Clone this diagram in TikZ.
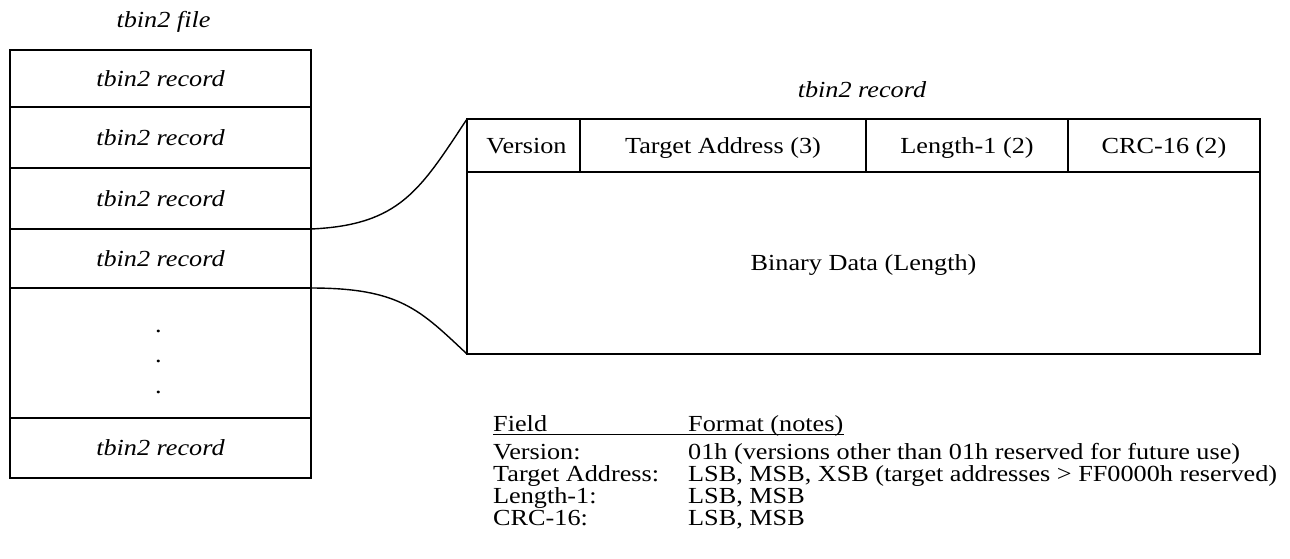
\documentclass[tikz,border=0pt]{standalone}
\usepackage{fontspec}
\setmainfont{Liberation Serif}[FakeStretch=1.14]
\begin{document}
\begin{tikzpicture}[x=1pt,y=-1pt,
  txt/.style={font=\fontsize{23}{30.5}\selectfont},
  cell/.style={txt, draw, line width=1.4pt, inner sep=0pt, outer sep=0pt,
    anchor=north west, text height=15.5pt, text depth=0pt},
  lbl/.style={txt, inner sep=0pt, anchor=base},
  tbl/.style={txt, inner sep=0pt, anchor=base west},
  link/.style={line width=1.4pt}]
\useasboundingbox (0,0) rectangle (1290,558);

% file: a stack of records
\node[lbl] (ftitle) at (163.5,27) {\textit{tbin2 file}};
\node[cell, minimum width=301pt, minimum height=57pt] (r1) at (10,50)  {\textit{tbin2 record}};
\node[cell, minimum width=301pt, minimum height=61pt] (r2) at (10,107) {\textit{tbin2 record}};
\node[cell, minimum width=301pt, minimum height=61pt] (r3) at (10,168) {\textit{tbin2 record}};
\node[cell, minimum width=301pt, minimum height=59pt] (r4) at (10,229) {\textit{tbin2 record}};
\node[cell, minimum width=301pt, minimum height=130pt] (rgap) at (10,288) {};
\node[txt, align=center, inner sep=0pt] (dots) at (158.5,361.5) {.\\.\\.};
\node[cell, minimum width=301pt, minimum height=60pt] (r5) at (10,418) {\textit{tbin2 record}};

% one record in detail
\node[lbl] (rtitle) at (862,97) {\textit{tbin2 record}};
\node[cell, minimum width=113pt, minimum height=53pt] (ver) at (467,119)  {\hspace*{6pt}Version};
\node[cell, minimum width=286pt, minimum height=53pt] (tad) at (580,119)  {Target Address (3)};
\node[cell, minimum width=202pt, minimum height=53pt] (len) at (866,119)  {Length-1 (2)};
\node[cell, minimum width=192pt, minimum height=53pt] (crc) at (1068,119) {CRC-16 (2)};
\node[cell, minimum width=793pt, minimum height=182pt] (dat) at (467,172) {Binary Data (Length)};

% zoom connectors
\draw[link] (r4.north east) .. controls +(89,-4) and +(-47,71) .. (ver.north west);
\draw[link] (r4.south east) .. controls +(89,0) and +(-47,-44) .. (dat.south west);

% field table
\node[tbl] (t0) at (493,431)   {\makebox[195pt][l]{Field}Format (notes)};
\draw[line width=1.7pt] ([yshift=-3.5pt]t0.base west) -- ([yshift=-3.5pt]t0.base east);
\node[tbl] (t1) at (493,459.5) {\makebox[195pt][l]{Version:}01h (versions other than 01h reserved for future use)};
\node[tbl] (t2) at (493,481.5) {\makebox[195pt][l]{Target Address:}LSB, MSB, XSB (target addresses > FF0000h reserved)};
\node[tbl] (t3) at (493,503.5) {\makebox[195pt][l]{Length-1:}LSB, MSB};
\node[tbl] (t4) at (493,525.5) {\makebox[195pt][l]{CRC-16:}LSB, MSB};
\end{tikzpicture}
\end{document}
